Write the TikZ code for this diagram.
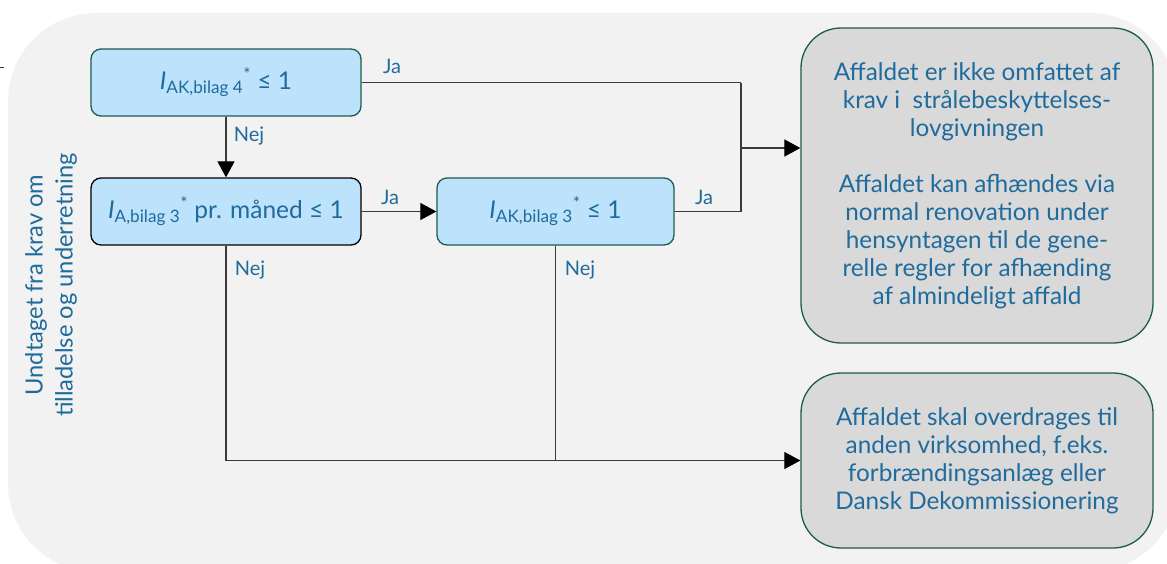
\documentclass[tikz,border=0pt]{standalone}
\usepackage{fontspec}
\setmainfont{Lato}
\usetikzlibrary{arrows.meta}

\definecolor{txtblue}{HTML}{1F6B9C}
\definecolor{boxblue}{HTML}{BDE2FB}
\definecolor{edgeteal}{HTML}{1E5B50}
\definecolor{outgray}{HTML}{D9D9D9}
\definecolor{bggray}{HTML}{F2F2F2}
\definecolor{wire}{HTML}{3A3A3A}

\tikzset{
  test/.style={draw=edgeteal, fill=boxblue, line width=1.3pt, rounded corners=10pt,
    minimum height=67pt, text=txtblue, font=\fontsize{24.5}{28}\selectfont, inner sep=0pt},
  outcome/.style={draw=edgeteal, fill=outgray, line width=1.3pt, rounded corners=40pt,
    minimum width=352pt, text=txtblue, align=center, inner sep=0pt,
    font=\fontsize{24.3}{28}\selectfont},
  wireline/.style={draw=wire, line width=1.2pt},
  flow/.style={wireline, -{Triangle[length=16pt,width=17pt,color=black]}},
  answer/.style={text=txtblue, font=\fontsize{20}{22}\selectfont, inner sep=0pt},
}

\begin{document}
\begin{tikzpicture}[x=1pt, y=-1pt]
\useasboundingbox (0,0) rectangle (1167,563);

% background panel
\begin{scope}
  \clip (0,0) rectangle (1167,563);
  \fill[bggray, rounded corners=88pt] (8,13) rectangle (1178,572);
\end{scope}
\draw[wire, line width=1pt] (0,67) -- (4,67);

% side caption
\node[rotate=90, text=txtblue, align=center, font=\fontsize{23.7}{30}\selectfont]
  (side) at (51,285) {Undtaget fra krav om\\tilladelse og underretning};

% decision boxes
\node[test, minimum width=270pt] (b1) at (226,82.5)
  {\textit{I}\textsubscript{AK,bilag 4}\textsuperscript{*} ≤ 1};
\node[test, draw=black, minimum width=270pt] (b2) at (226,211.5)
  {\textit{I}\textsubscript{A,bilag 3}\textsuperscript{*} pr. måned ≤ 1};
\node[test, minimum width=237pt] (b3) at (555.5,211.5)
  {\textit{I}\textsubscript{AK,bilag 3}\textsuperscript{*} ≤ 1};

% outcome boxes
\node[outcome, minimum height=315pt] (b4) at (977,185.5)
  {Affaldet er ikke omfattet af\\krav i~ strålebeskyttelses-\\lovgivningen\\[28pt]
   Affaldet kan afhændes via\\normal renovation under\\hensyntagen til de gene-\\relle regler for afhænding\\af almindeligt affald};
\node[outcome, minimum height=175pt] (b5) at (977,460.5)
  {Affaldet skal overdrages til\\anden virksomhed, f.eks.\\forbrændingsanlæg eller\\Dansk Dekommissionering};

% connectors
\coordinate (j1) at (741,82.5);
\coordinate (j3) at (741,148);
\draw[wireline] (b1.east) -- (j1);
\draw[wireline] (b3.east) -| (j1);
\draw[flow] (j3) -- (j3 -| b4.west);
\draw[flow] (b1.south) -- (b2.north);
\draw[flow] (b2.east) -- (b3.west);
\coordinate (m) at (b3.south |- b5.west);
\draw[flow] (b2.south) |- (b5.west);
\draw[wireline] (b3.south) -- (m);

% answer labels
\node[answer] (ja1) at (392,66) {Ja};
\node[answer] (ja2) at (390,197) {Ja};
\node[answer] (ja3) at (704,197) {Ja};
\node[answer] (nej1) at (249,136) {Nej};
\node[answer] (nej2) at (250,270) {Nej};
\node[answer] (nej3) at (580,270) {Nej};
\end{tikzpicture}
\end{document}
